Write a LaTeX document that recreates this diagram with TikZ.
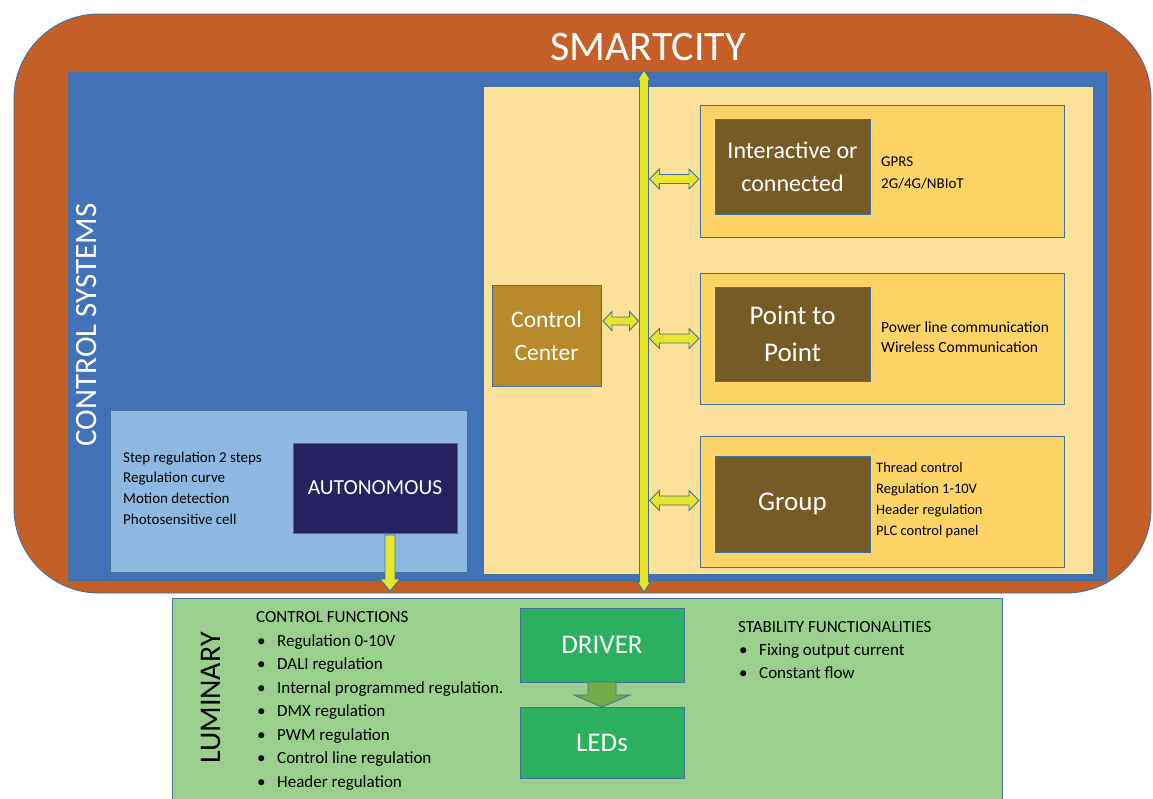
\documentclass[tikz,border=0pt]{standalone}
\usepackage{fontspec}
\setmainfont{Carlito}
\usetikzlibrary{calc}
\definecolor{orangeC}{HTML}{C55F28}
\definecolor{blueC}{HTML}{4472B8}
\definecolor{edgeC}{HTML}{41719C}
\definecolor{paleY}{HTML}{FDE19A}
\definecolor{subY}{HTML}{FFD467}
\definecolor{darkB}{HTML}{765B27}
\definecolor{ccB}{HTML}{B88A2C}
\definecolor{lightB}{HTML}{8EB8E2}
\definecolor{navyC}{HTML}{262262}
\definecolor{lumG}{HTML}{9BCF8E}
\definecolor{drvG}{HTML}{2AB05F}
\definecolor{arrY}{HTML}{E6E62A}
\definecolor{arrG}{HTML}{70AD47}
\newcommand\hdbl[6]{%
\filldraw[#6] let \p1=#1, \p2=#2 in (\x1,\y1) -- (\x1+#3,\y1+#4) -- (\x1+#3,\y1+#5) -- (\x2-#3,\y1+#5) -- (\x2-#3,\y1+#4) -- (\x2,\y1) -- (\x2-#3,\y1-#4) -- (\x2-#3,\y1-#5) -- (\x1+#3,\y1-#5) -- (\x1+#3,\y1-#4) -- cycle;}
\newcommand\vdbl[6]{%
\filldraw[#6] let \p1=#1, \p2=#2 in (\x1,\y1) -- (\x1+#4,\y1-#3) -- (\x1+#5,\y1-#3) -- (\x1+#5,\y2+#3) -- (\x1+#4,\y2+#3) -- (\x1,\y2) -- (\x1-#4,\y2+#3) -- (\x1-#5,\y2+#3) -- (\x1-#5,\y1-#3) -- (\x1-#4,\y1-#3) -- cycle;}
\newcommand\dnarr[6]{%
\filldraw[#6] let \p1=#1, \p2=#2 in (\x1-#5,\y1) -- (\x1+#5,\y1) -- (\x1+#5,\y2+#3) -- (\x1+#4,\y2+#3) -- (\x2,\y2) -- (\x1-#4,\y2+#3) -- (\x1-#5,\y2+#3) -- cycle;}
\tikzset{
  panel/.style={draw=edgeC, line width=0.9pt, anchor=north west, inner sep=0pt, outer sep=0pt},
  boxtxt/.style={panel, text=white, align=center},
  small/.style={anchor=west, align=left, inner sep=0pt, font=\fontsize{15}{21}\selectfont},
  listtxt/.style={anchor=north west, align=left, inner sep=0pt, font=\fontsize{17}{23.5}\selectfont},
  yarrow/.style={fill=arrY, draw=edgeC, line width=0.9pt},
  garrow/.style={fill=arrG, draw=edgeC, line width=0.9pt},
}
\newcommand\bul[1]{\hspace{1pt}\makebox[20pt][l]{\textbullet}#1}
\begin{document}
\begin{tikzpicture}[x=1pt,y=-1pt]
\useasboundingbox[fill=white] (0,0) rectangle (1153,798);
% outer city frame
\node[panel, fill=orangeC, rounded corners=85pt, minimum width=1137pt, minimum height=579pt] (city) at (14,14) {};
\node[text=white, font=\fontsize{42}{46}\selectfont] (title) at (648,47) {SMARTCITY};
% control systems
\node[panel, fill=blueC, minimum width=1038pt, minimum height=508pt] (ctrl) at (68,72) {};
\draw[edgeC, line width=0.9pt] (ctrl.north west) ++(37,0) coordinate (s1) -- (s1 |- ctrl.south);
\node[text=white, rotate=90, font=\fontsize{31}{34}\selectfont] (ctrllbl) at (87,325) {CONTROL SYSTEMS};
% yellow panel
\node[panel, fill=paleY, minimum width=610pt, minimum height=488pt] (net) at (483,86) {};
% sub panels
\node[panel, fill=subY, minimum width=364pt, minimum height=132pt] (sub1) at (700,105) {};
\node[panel, fill=subY, minimum width=364pt, minimum height=131pt] (sub2) at (700,273) {};
\node[panel, fill=subY, minimum width=364pt, minimum height=131pt] (sub3) at (700,436) {};
\node[boxtxt, fill=darkB, minimum width=155pt, minimum height=95pt, font=\fontsize{24}{33}\selectfont] (inter) at (715,119) {Interactive or\\connected};
\node[boxtxt, fill=darkB, minimum width=155pt, minimum height=94pt, font=\fontsize{27}{37}\selectfont] (p2p) at (715,287) {Point to\\Point};
\node[boxtxt, fill=darkB, minimum width=155pt, minimum height=96pt, font=\fontsize{27}{30}\selectfont] (group) at (715,456) {Group};
\node[small, font=\fontsize{15}{22}\selectfont] (t1) at (881,172.5) {GPRS\\2G/4G/NBIoT};
\node[small, font=\fontsize{15.5}{20}\selectfont] (t2) at (881,337) {Power line communication\\Wireless Communication};
\node[small, font=\fontsize{14.5}{21}\selectfont] (t3) at (876,500.5) {Thread control\\Regulation 1-10V\\Header regulation\\PLC control panel};
% control center
\node[boxtxt, fill=ccB, minimum width=109pt, minimum height=101pt, font=\fontsize{23.5}{33}\selectfont] (cc) at (492,285) {Control\\Center};
% autonomous
\node[panel, fill=lightB, minimum width=357pt, minimum height=162pt] (autop) at (110,410) {};
\node[boxtxt, fill=navyC, minimum width=164pt, minimum height=90pt, font=\fontsize{21.5}{24}\selectfont] (auto) at (293,443) {AUTONOMOUS};
\node[small, font=\fontsize{15}{20.7}\selectfont] (t4) at (123,488) {Step regulation 2 steps\\Regulation curve\\Motion detection\\Photosensitive cell};
% luminary
\node[panel, fill=lumG, minimum width=830pt, minimum height=220pt] (lum) at (172,598) {};
\node[rotate=90, font=\fontsize{30}{34}\selectfont] (lumlbl) at (211,698) {LUMINARY};
\node[listtxt] (cf) at (256,611.5) {CONTROL FUNCTIONS\\\bul{Regulation 0-10V}\\\bul{DALI regulation}\\\bul{Internal programmed regulation.}\\\bul{DMX regulation}\\\bul{PWM regulation}\\\bul{Control line regulation}\\\bul{Header regulation}};
\node[listtxt, font=\fontsize{17}{23}\selectfont] (sf) at (738,621) {STABILITY FUNCTIONALITIES\\\bul{Fixing output current}\\\bul{Constant flow}};
\node[boxtxt, fill=drvG, minimum width=164pt, minimum height=74pt, font=\fontsize{27}{30}\selectfont] (drv) at (520,608) {DRIVER};
\node[boxtxt, fill=drvG, minimum width=164pt, minimum height=71pt, font=\fontsize{27}{30}\selectfont] (led) at (520,707) {LEDs};
% connectors
\coordinate (busT) at (644,70);
\coordinate (busB) at (644,592);
\vdbl{(busT)}{(busB)}{10pt}{6.5pt}{4.5pt}{yarrow}
\hdbl{($(busT |- sub1.west)+(5.5,8)$)}{($(sub1.west)+(-1,8)$)}{10pt}{10pt}{4.5pt}{yarrow}
\hdbl{($(busT |- sub2.west)+(5.5,0)$)}{($(sub2.west)+(-1,0)$)}{10pt}{10pt}{4.5pt}{yarrow}
\hdbl{($(busT |- sub3.west)+(5.5,-1)$)}{($(sub3.west)+(-1,-1)$)}{10pt}{10pt}{4.5pt}{yarrow}
\hdbl{($(cc.east)+(2,-14.5)$)}{($(busT |- cc.east)+(-5.5,-14.5)$)}{9pt}{9.5pt}{4pt}{yarrow}
\dnarr{($(auto.south)+(15,2)$)}{($(auto.south)+(15,58)$)}{12pt}{10pt}{5pt}{yarrow}
\dnarr{(drv.south)}{(led.north)}{12pt}{28pt}{14pt}{garrow}
\end{tikzpicture}
\end{document}
